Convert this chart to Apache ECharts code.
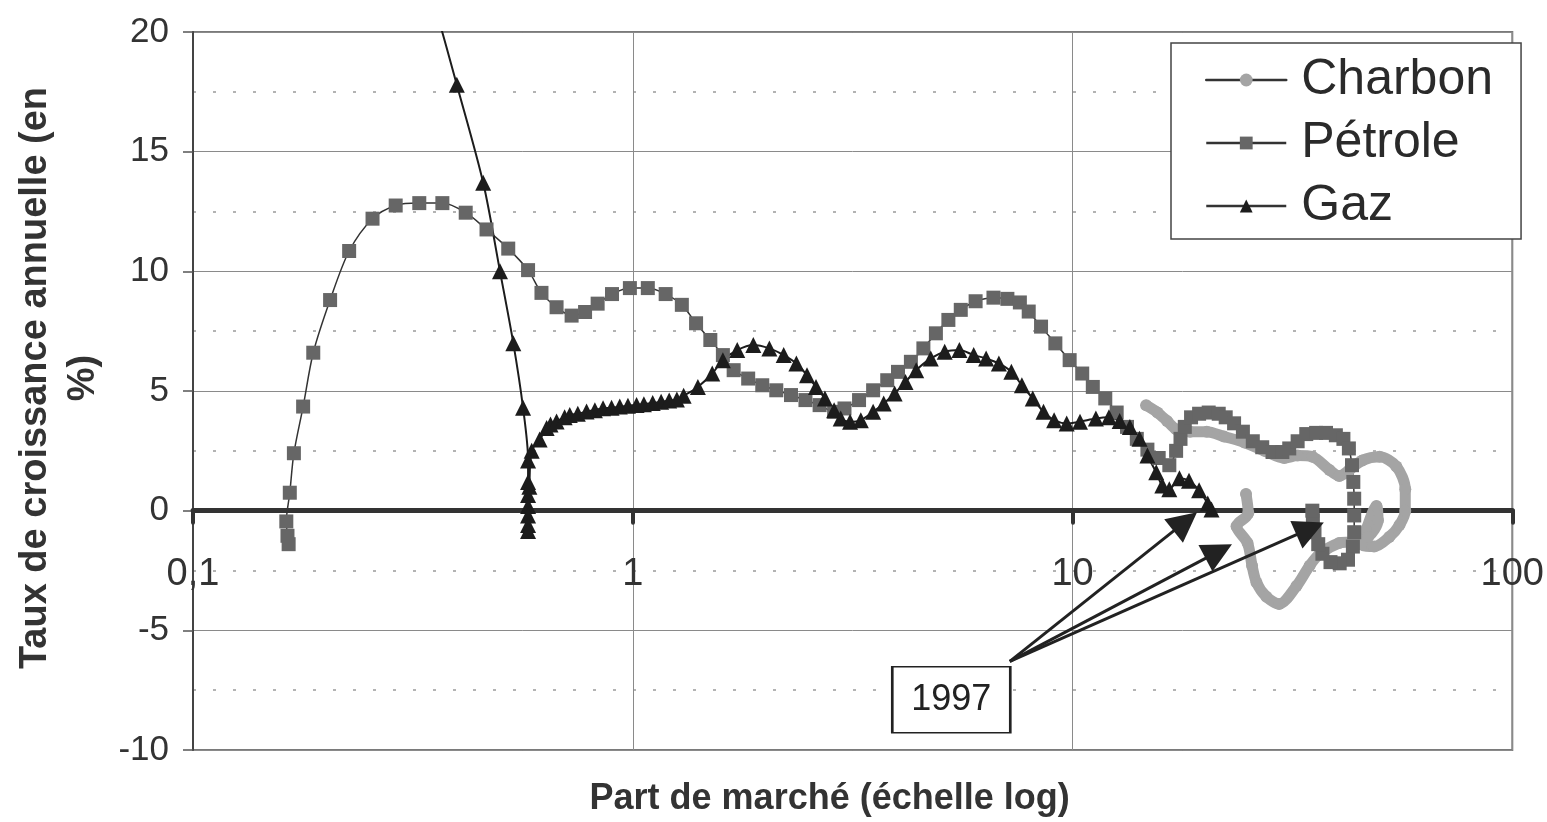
<!DOCTYPE html>
<html>
<head>
<meta charset="utf-8">
<title>Taux de croissance / part de marché</title>
<script src="https://cdn.jsdelivr.net/npm/echarts@6/dist/echarts.min.js"></script>
<style>
	html, body { margin: 0; padding: 0; background: #fff; }
	#chart-main { width: 1547px; height: 822px; }
</style>
</head>
<body>
<div id="chart-main"></div>
<script>
// [part de marché (%), taux de croissance annuelle (%)]
var charbon = [
	[14.7, 4.4], [15.6, 4.1], [16.4, 3.75], [17.2, 3.4], [18.5, 3.3], [20.2, 3.3], [22.1, 3.1],
	[24.6, 2.85], [27.3, 2.5], [30.3, 2.2], [32.5, 2.3], [35.1, 2.25], [38.4, 1.7], [40.4, 1.45],
	[42.6, 1.7], [45.6, 2.1], [49.9, 2.25], [54.5, 1.85], [57.1, 0.9], [57.1, 0.0], [55.4, -0.6],
	[52.5, -1.1], [48.5, -1.5], [45.4, -1.4], [46.5, -0.8], [49.1, 0.2], [49.5, -0.4], [47, -1.1],
	[43, -1.3], [40.4, -1.35], [36.5, -1.8], [34.6, -2.3], [32.3, -3.15], [29.5, -3.9], [27.6, -3.6],
	[26.2, -3.0], [25.6, -2.3], [25.0, -1.35], [23.6, -0.65], [25.1, -0.1], [24.8, 0.7]
];

var petrole = [
	[0.165, -1.4], [0.164, -1.05], [0.163, -0.45], [0.166, 0.75], [0.1696, 2.4], [0.178, 4.35],
	[0.1877, 6.6], [0.205, 8.8], [0.2265, 10.85], [0.256, 12.2], [0.289, 12.75], [0.327, 12.85],
	[0.369, 12.85], [0.417, 12.45], [0.465, 11.75], [0.521, 10.95], [0.578, 10.05], [0.62, 9.1],
	[0.671, 8.5], [0.726, 8.15], [0.779, 8.3], [0.832, 8.65], [0.897, 9.05], [0.985, 9.3],
	[1.082, 9.3], [1.188, 9.05], [1.293, 8.6], [1.393, 7.83], [1.501, 7.13], [1.603, 6.5],
	[1.696, 5.87], [1.83, 5.52], [1.97, 5.24], [2.12, 5.03], [2.29, 4.83], [2.47, 4.62],
	[2.66, 4.41], [2.87, 4.13], [3.03, 4.27], [3.27, 4.62], [3.52, 5.03], [3.79, 5.45],
	[4.01, 5.8], [4.29, 6.22], [4.58, 6.78], [4.89, 7.41], [5.22, 7.97], [5.57, 8.39],
	[6.02, 8.75], [6.61, 8.9], [7.11, 8.85], [7.59, 8.7], [7.95, 8.32], [8.48, 7.69],
	[9.14, 6.99], [9.85, 6.29], [10.52, 5.73], [11.12, 5.17], [11.87, 4.69], [12.6, 4.1],
	[13.3, 3.5], [14.0, 3.0], [14.8, 2.55], [15.7, 2.2], [16.6, 1.9], [17.2, 2.5], [17.6, 3.0],
	[18.0, 3.5], [18.6, 3.9], [19.4, 4.05], [20.4, 4.1], [21.5, 4.05], [22.3, 3.9], [23.3, 3.65],
	[24.4, 3.3], [25.7, 2.9], [27.0, 2.65], [28.5, 2.45], [30.0, 2.45], [31.1, 2.6], [32.5, 2.9],
	[34.0, 3.2], [35.8, 3.25], [37.7, 3.25], [39.7, 3.15], [41.3, 3.0], [42.5, 2.6], [43.2, 1.9],
	[43.5, 1.2], [43.7, 0.5], [43.7, -0.2], [43.7, -0.9], [43.4, -1.5], [42.3, -2.05],
	[40.5, -2.2], [38.6, -2.15], [37.0, -1.8], [36.2, -1.4], [35.5, -0.9], [35.2, -0.4], [35.1, 0.0]
];

var gaz = [
	[0.35, 21.5], [0.398, 17.8], [0.457, 13.7], [0.499, 10.0], [0.535, 7.0], [0.563, 4.3],
	[0.578, 2.1], [0.578, 1.2], [0.578, 0.65], [0.578, 0.2], [0.578, -0.2], [0.578, -0.6],
	[0.578, -0.85], [0.582, 1.0], [0.589, 2.5], [0.614, 2.97], [0.637, 3.45], [0.65, 3.6],
	[0.671, 3.73], [0.70, 3.9], [0.719, 4.0], [0.75, 4.05], [0.785, 4.14], [0.82, 4.2],
	[0.856, 4.28], [0.895, 4.3], [0.934, 4.35], [0.975, 4.38], [1.02, 4.42], [1.06, 4.45],
	[1.11, 4.5], [1.16, 4.55], [1.21, 4.6], [1.26, 4.65], [1.305, 4.8], [1.406, 5.17],
	[1.516, 5.73], [1.603, 6.29], [1.728, 6.71], [1.88, 6.92], [2.045, 6.78], [2.204, 6.5],
	[2.355, 6.15], [2.49, 5.66], [2.61, 5.17], [2.735, 4.69], [2.87, 4.2], [2.97, 3.85],
	[3.12, 3.71], [3.3, 3.78], [3.52, 4.13], [3.72, 4.48], [3.94, 4.9], [4.17, 5.38],
	[4.41, 5.87], [4.76, 6.36], [5.12, 6.64], [5.53, 6.71], [5.96, 6.5], [6.36, 6.36],
	[6.8, 6.15], [7.26, 5.8], [7.67, 5.24], [8.12, 4.69], [8.59, 4.13], [9.08, 3.78],
	[9.7, 3.64], [10.4, 3.72], [11.3, 3.85], [12.1, 3.9], [12.8, 3.75], [13.5, 3.5],
	[14.2, 3.0], [14.8, 2.3], [15.5, 1.6], [16.0, 1.05], [16.6, 0.9], [17.5, 1.35],
	[18.4, 1.25], [19.4, 0.85], [20.3, 0.3], [20.7, 0.05]
];

// axes
var xMin = 0.1, xMax = 100;
var xTickValues = [0.1, 1, 10, 100];
var xTickLabels = ['0,1', '1', '10', '100'];
var yMin = -10, yMax = 20, yStep = 5;

// annotation "1997" : box centre and arrows (data coordinates)
var noteText = '1997';
var notePos = [5.3, -7.9];
var arrowFrom = [7.2, -6.3];
var arrowTo = [[18.05, -0.46], [21.5, -1.7], [34.7, -0.75]];

var FONT = '"Liberation Sans", Arial, Helvetica, sans-serif';

// zone de tracé
var gridTop = 32, gridBottom = 72, chartHeight = 822;

// libellé décimal à la française
function xLabel(v) {
	var n = Number(v);
	for (var i = 0; i < xTickValues.length; i++) {
		if (Math.abs(n - xTickValues[i]) < xTickValues[i] * 1e-6) {
			return xTickLabels[i];
		}
	}
	return String(n).replace('.', ',');
}

function mainChart() {
	var arrows = [];
	for (var i = 0; i < arrowTo.length; i++) {
		arrows.push([{ coord: arrowFrom }, { coord: arrowTo[i] }]);
	}
	// l'axe des x passe par 0 : on le remonte depuis le bas de la grille
	var plotH = chartHeight - gridTop - gridBottom;
	var zeroOffset = -plotH * (0 - yMin) / (yMax - yMin);

	var option = {
		animation: false,
		textStyle: { fontFamily: FONT },
		grid: {
			left: 193,
			right: 34,
			top: gridTop,
			bottom: gridBottom,
			show: true,
			borderColor: '#7a7a7a',
			borderWidth: 2
		},
		legend: {
			orient: 'vertical',
			left: 1171,
			top: 43,
			padding: [9, 28, 5, 34],
			itemWidth: 80,
			itemHeight: 16,
			itemGap: 7,
			backgroundColor: '#fff',
			borderColor: '#444',
			borderWidth: 1.5,
			borderRadius: 0,
			selectedMode: false,
			lineStyle: { color: '#333', width: 2.5 },
			textStyle: {
				fontFamily: FONT,
				fontSize: 50,
				lineHeight: 56,
				color: '#2a2a2a',
				padding: [0, 0, 0, 10]
			},
			data: ['Charbon', 'Pétrole', 'Gaz']
		},
		xAxis: {
			type: 'log',
			logBase: 10,
			min: xMin,
			max: xMax,
			position: 'bottom',
			offset: zeroOffset,
			name: 'Part de marché (échelle log)',
			nameLocation: 'middle',
			nameGap: 270,
			nameTextStyle: {
				fontFamily: FONT,
				fontSize: 36,
				fontWeight: 'bold',
				color: '#333',
				padding: [0, 46, 0, 0]
			},
			axisLine: {
				show: true,
				onZero: false,
				lineStyle: { color: '#333', width: 5 }
			},
			axisTick: {
				show: true,
				length: 12,
				lineStyle: { color: '#333', width: 4, cap: 'round' }
			},
			axisLabel: {
				fontFamily: FONT,
				fontSize: 38,
				color: '#333',
				margin: 45,
				formatter: xLabel
			},
			splitLine: {
				show: true,
				lineStyle: { color: '#8a8a8a', width: 1 }
			}
		},
		yAxis: {
			type: 'value',
			min: yMin,
			max: yMax,
			interval: yStep,
			name: 'Taux de croissance annuelle (en\n%)',
			nameLocation: 'middle',
			nameRotate: 90,
			nameGap: 80,
			nameTextStyle: {
				fontFamily: FONT,
				fontSize: 38,
				fontWeight: 'bold',
				color: '#333',
				lineHeight: 48,
				padding: [0, 0, 0, 26]
			},
			axisLine: {
				show: true,
				onZero: false,
				lineStyle: { color: '#444', width: 2 }
			},
			axisTick: {
				show: true,
				length: 10,
				lineStyle: { color: '#555', width: 1.5 }
			},
			axisLabel: {
				fontFamily: FONT,
				fontSize: 35,
				color: '#333',
				margin: 24
			},
			splitLine: {
				show: true,
				lineStyle: { color: '#8a8a8a', width: 1 }
			},
			minorTick: { show: false, splitNumber: 2 },
			minorSplitLine: {
				show: true,
				lineStyle: { color: '#9a9a9a', width: 1.5, type: [3, 17] }
			}
		},
		series: [
			{
				name: 'Charbon',
				type: 'line',
				data: charbon,
				smooth: 0.3,
				symbol: 'circle',
				symbolSize: 12,
				itemStyle: { color: '#a4a4a4' },
				lineStyle: { color: '#a4a4a4', width: 11, cap: 'round', join: 'round' },
				emphasis: { disabled: true }
			},
			{
				name: 'Pétrole',
				type: 'line',
				data: petrole,
				smooth: 0.3,
				symbol: 'rect',
				symbolSize: 14,
				itemStyle: { color: '#666' },
				lineStyle: { color: '#333', width: 1.5 },
				emphasis: { disabled: true }
			},
			{
				name: 'Gaz',
				type: 'line',
				data: gaz,
				smooth: 0.3,
				symbol: 'triangle',
				symbolSize: 16,
				itemStyle: { color: '#1c1c1c' },
				lineStyle: { color: '#1c1c1c', width: 2 },
				emphasis: { disabled: true },
				// flèches 1997
				markLine: {
					silent: true,
					symbol: ['none', 'triangle'],
					symbolSize: 30,
					label: { show: false },
					itemStyle: { color: '#222' },
					lineStyle: { color: '#222', width: 3, type: 'solid' },
					emphasis: { disabled: true },
					data: arrows
				},
				// cadre 1997
				markPoint: {
					silent: true,
					symbol: 'rect',
					symbolSize: [118, 66],
					itemStyle: { color: '#fff', borderColor: '#222', borderWidth: 2 },
					label: {
						show: true,
						position: 'inside',
						fontFamily: FONT,
						fontSize: 36,
						color: '#222',
						formatter: noteText
					},
					data: [{ coord: notePos }]
				}
			}
		]
	};

	var initChart = echarts.init(document.getElementById('chart-main'));
	initChart.setOption(option);
}

mainChart();
</script>
</body>
</html>
